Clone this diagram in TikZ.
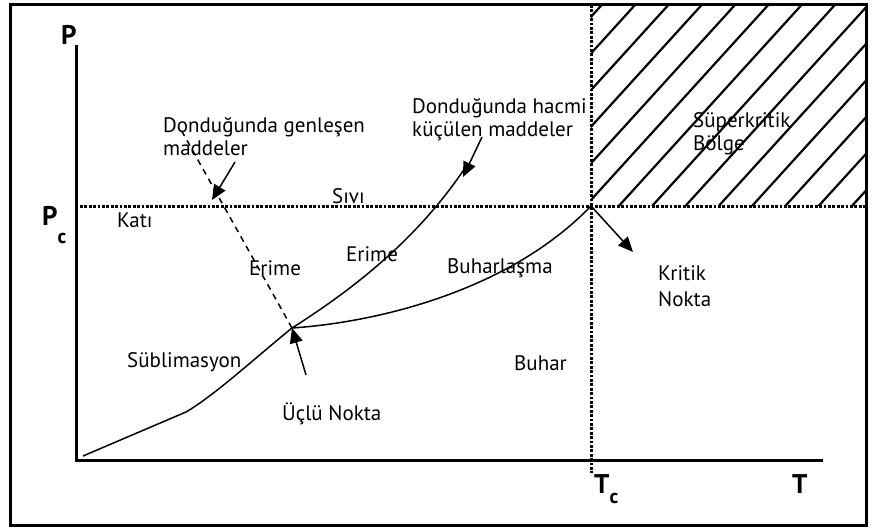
\documentclass[tikz,border=0pt]{standalone}
\usepackage{fontspec}
\setmainfont{PT Sans}
\usetikzlibrary{arrows.meta}
\begin{document}
\begin{tikzpicture}[x=1pt,y=-1pt,
  lbl/.style={font=\fontsize{21}{24}\selectfont, inner sep=0pt, anchor=base west},
  axlbl/.style={font=\fontsize{27}{30}\selectfont\bfseries, inner sep=0pt, anchor=base west},
  frame/.style={line width=3pt},
  axis/.style={line width=3pt},
  dotline/.style={line width=3pt, dash pattern=on 2.8pt off 1.6pt},
  curve/.style={line width=1.5pt},
  dashline/.style={line width=1.5pt, dash pattern=on 6pt off 5pt},
  arr/.style={line width=1.5pt, -{Triangle[length=15pt,width=13pt]}},
  hatch/.style={line width=2.2pt}]
\useasboundingbox (0,0) rectangle (872,527);

% outer frame
\draw[frame] (10,5) rectangle (866,525);

% key points of the diagram
\coordinate (origin) at (76,460);
\coordinate (ytop) at (76,45);
\coordinate (xend) at (823,460);
\coordinate (tp) at (292,328);   % triple point
\coordinate (cp) at (591,206);   % critical point
\coordinate (pcl) at (80,206);
\coordinate (pcr) at (866,206);
\coordinate (tct) at (591,5);
\coordinate (tcb) at (591,473);

% hatched supercritical region
\begin{scope}
  \clip (591,5) rectangle (866,206);
  \foreach \j in {-5,...,8} {
    \draw[hatch] ({585.5+33.3*\j},206) -- ({585.5+33.3*\j+182.7},5);
  }
\end{scope}

% critical pressure and temperature lines
\draw[dotline] (pcl) -- (pcr);
\draw[dotline] (tct) -- (tcb);

% axes
\draw[axis] (ytop) -- (origin) -- (xend);

% sublimation curve
\draw[curve] (83,456) -- (186,412) .. controls (215,395) and (255,358) .. (tp);
% melting curve (contracting on freezing)
\coordinate (mtop) at (465,168);
\draw[curve] (tp) .. controls (360,285) and (420,235) .. (mtop);
% melting curve (expanding on freezing)
\coordinate (dtop) at (180,128);
\draw[dashline] (tp) -- (dtop);
% vaporisation curve
\draw[curve] (tp) .. controls (380,322) and (510,290) .. (cp);

% axis labels
\node[axlbl] (plbl) at (61,45) {P};
\node[axlbl] (pclbl) at (42,225) {P\raisebox{-18pt}{\fontsize{20}{20}\selectfont c}};
\node[axlbl] (tclbl) at (594,493) {T\raisebox{-10pt}{\fontsize{20}{20}\selectfont c}};
\node[axlbl] (tlbl) at (792,493) {T};

% region and curve labels
\node[lbl] (kati) at (117,227) {Katı};
\node[lbl] (sivi) at (332,203) {Sıvı};
\node[lbl] (erime1) at (249,275) {Erime};
\node[lbl] (erime2) at (346,261) {Erime};
\node[lbl] (buharl) at (447,273) {Buharlaşma};
\node[lbl] (subl) at (127,367) {Süblimasyon};
\node[lbl] (uclu) at (282,420) {Üçlü Nokta};
\node[lbl] (buhar) at (514,370) {Buhar};
\node[lbl] (krit1) at (658,280) {Kritik};
\node[lbl] (krit2) at (658,306) {Nokta};
\node[lbl] (super1) at (693,127) {Süperkritik};
\node[lbl] (super2) at (693,150) {Bölge};
\node[lbl] (gen1) at (163,132) {Donduğunda genleşen};
\node[lbl] (gen2) at (163,155) {maddeler};
\node[lbl] (hac1) at (412,113) {Donduğunda hacmi};
\node[lbl] (hac2) at (412,136) {küçülen maddeler};

% pointer arrows
\coordinate (a1s) at (235,162);
\coordinate (a1e) at (212,200);
\draw[arr] (a1s) -- (a1e);
\coordinate (a2s) at (482,137);
\coordinate (a2e) at (463,177);
\draw[arr] (a2s) -- (a2e);
\coordinate (a3s) at (306,375);
\draw[arr] (a3s) -- (tp);
\coordinate (a4e) at (633,252);
\draw[arr] (cp) -- (a4e);
\end{tikzpicture}
\end{document}
